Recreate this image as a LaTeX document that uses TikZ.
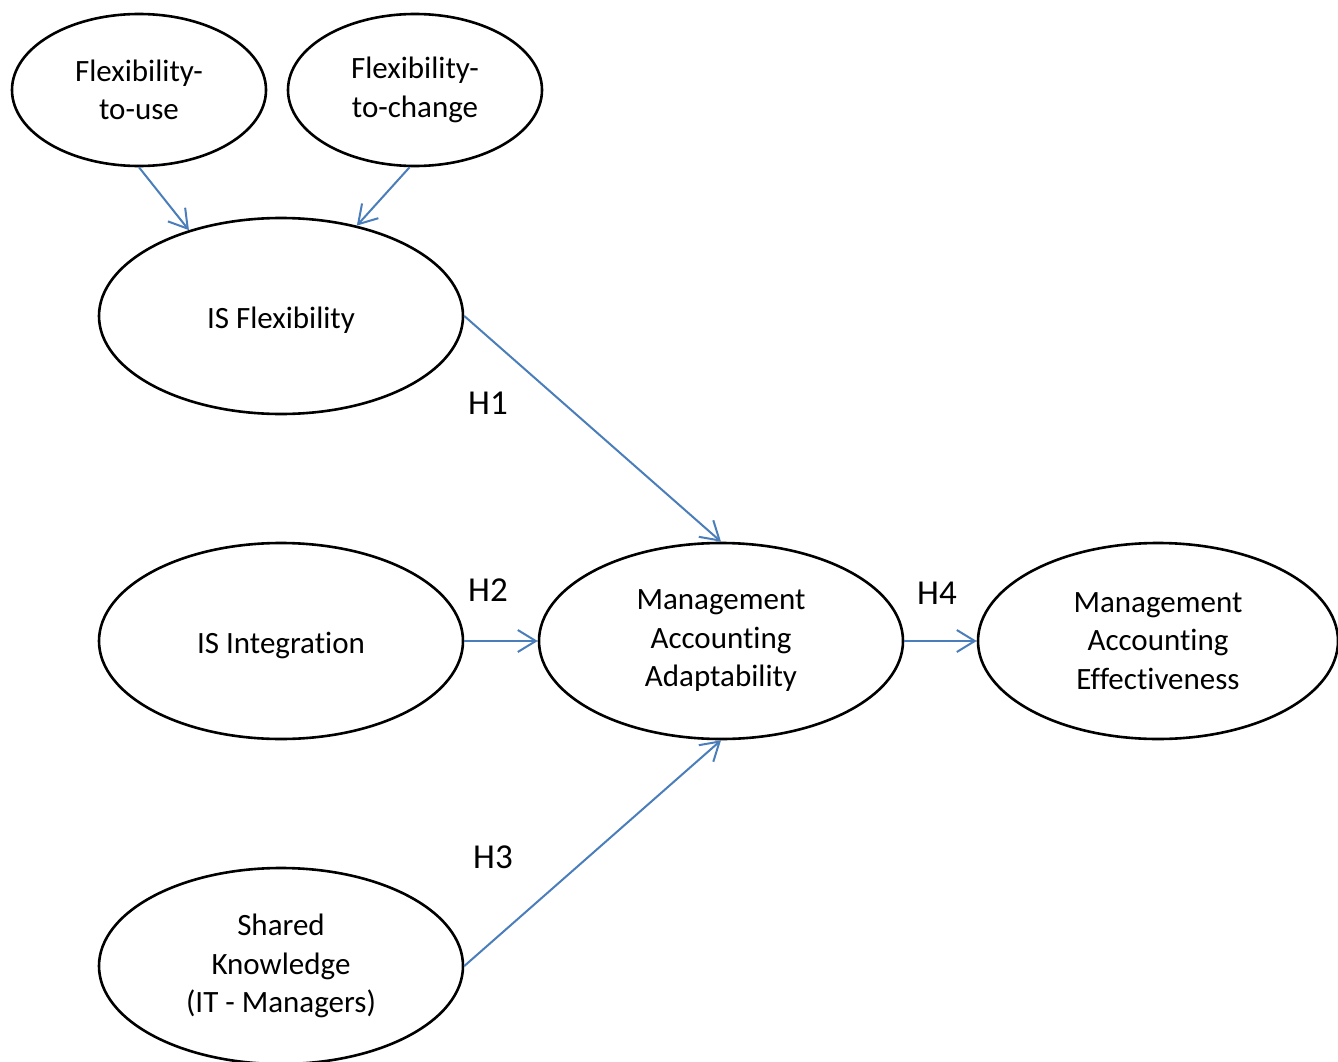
\documentclass[tikz,border=0pt]{standalone}
\usepackage{fontspec}
\setmainfont{Carlito}[RawFeature={-liga;-clig;-calt}]
\usetikzlibrary{shapes.geometric,arrows.meta}
\definecolor{linkblue}{RGB}{74,126,187}
\begin{document}
\begin{tikzpicture}[x=1pt,y=-1pt,
    construct/.style={draw=black, line width=2.6pt, ellipse, inner sep=0pt, align=center,
        font=\fontsize{31}{38.5}\selectfont, execute at begin node={\rule{0pt}{30pt}}},
    small/.style={construct, minimum width=254pt, minimum height=152pt},
    big/.style={construct, minimum width=364pt, minimum height=196pt},
    path/.style={draw=linkblue, line width=2pt, -{Straight Barb[length=18pt,width=22pt,line width=2pt]}},
    hyp/.style={font=\fontsize{35}{42}\selectfont}]
        \useasboundingbox (0,0) rectangle (1338,1062);
        \node [small] (use) at (139,90) {Flexibility-\\to-use};
        \node [small] (change) at (415,90) {Flexibility-\\to-change};
        \node [big] (isflex) at (281,316) {IS Flexibility};
        \node [big] (isint) at (281,641) {IS Integration};
        \node [big] (shared) at (281,966) {Shared\\Knowledge\\(IT - Managers)};
        \node [big] (maa) at (721,641) {Management\\Accounting\\Adaptability};
        \node [big, minimum width=360pt] (mae) at (1158,641) {Management\\Accounting\\Effectiveness};

        \node [hyp] (h1) at (488,403) {H1};
        \node [hyp] (h2) at (488,590) {H2};
        \node [hyp] (h3) at (493,857) {H3};
        \node [hyp] (h4) at (937,593) {H4};

        \draw [path] (use.south) -- (isflex.137);
        \draw [path] (change.266) -- (isflex.50);

        \draw [path] (isflex.east) -- (maa.north);
        \draw [path] (isint.east) -- (maa.west);
        \draw [path] (shared.east) -- (maa.south);

        \draw [path] (maa.east) -- (mae.west);
    \end{tikzpicture}
\end{document}
